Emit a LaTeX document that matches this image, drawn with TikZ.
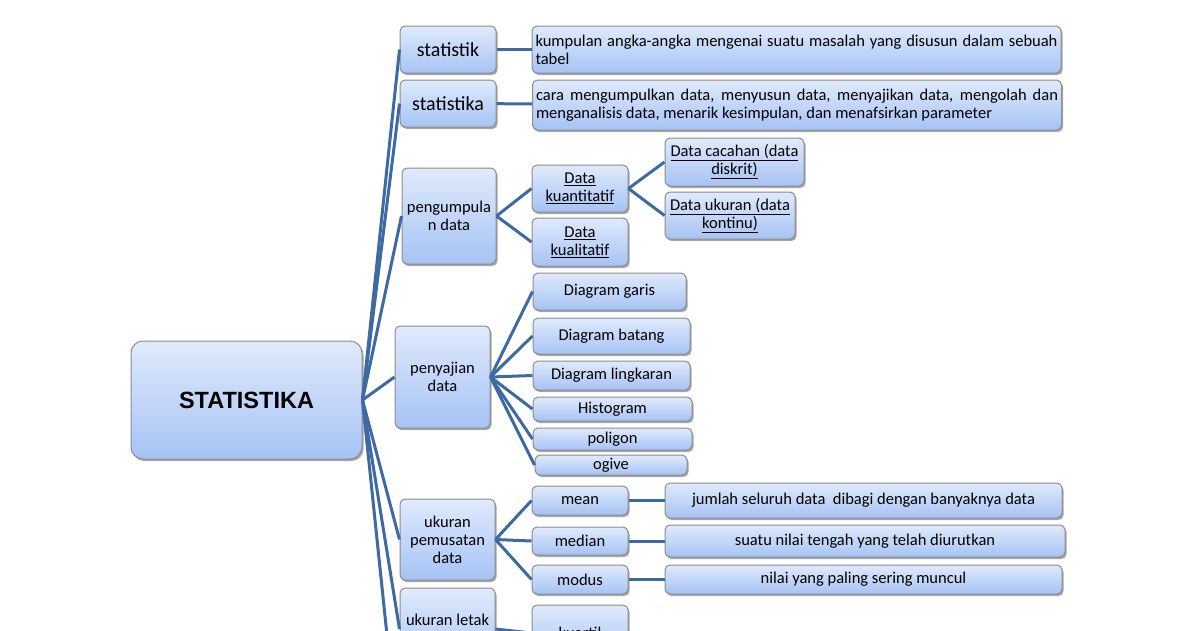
\documentclass[tikz,border=0pt]{standalone}
\usepackage{fontspec}
\setmainfont{Carlito}
\newfontfamily\arialfont{Liberation Sans}
\usetikzlibrary{shadows}

\definecolor{linkblue}{RGB}{61,106,163}
\definecolor{boxtop}{RGB}{224,234,251}
\definecolor{boxbottom}{RGB}{166,195,245}
\definecolor{boxline}{RGB}{140,140,140}

\tikzset{
	box/.style={draw=boxline,line width=1pt,rounded corners=5pt,top color=boxtop,bottom color=boxbottom,
		drop shadow={shadow xshift=1.5pt,shadow yshift=-2pt,opacity=0.35,fill=black},
		align=center,inner xsep=1pt,inner ysep=0.5pt,font=\fontsize{16.5}{18}\selectfont},
	defbox/.style={box,align=justify,text width=522pt,inner xsep=3.5pt},
	link/.style={draw=linkblue,line width=3pt}
}

\begin{document}
\begin{tikzpicture}[x=1pt,y=-1pt]
			\useasboundingbox (0,0) rectangle (1200,630);
			\clip (0,0) rectangle (1200,630);
			
			% pusat
			\node[box,rounded corners=12pt,minimum width=231pt,minimum height=118pt,font=\arialfont\bfseries\fontsize{23.5}{26}\selectfont] (root) at (246.5,400) {STATISTIKA};
			
			% cabang utama
			\node[box,minimum width=96pt,minimum height=47pt,font=\fontsize{20}{22}\selectfont] (statistik) at (448,49.5) {statistik};
			\node[box,minimum width=96pt,minimum height=47pt,font=\fontsize{20}{22}\selectfont] (statistika) at (448,103.5) {statistika};
			\node[box,minimum width=94pt,minimum height=96pt] (kumpul) at (449,216) {pengumpula\\n data};
			\node[box,minimum width=95pt,minimum height=102pt] (saji) at (442.5,377) {penyajian\\data};
			\node[box,minimum width=95pt,minimum height=81pt] (pusat) at (447.5,539.5) {ukuran\\pemusatan\\data};
			\node[box,minimum width=95pt,minimum height=82pt] (letak) at (447.5,629) {ukuran letak\\\phantom{x}};
			\coordinate (bawah) at (400,760);
			
			% pengertian
			\node[defbox,minimum height=47pt] (defstatistik) at (796.5,49.5) {kumpulan angka-angka mengenai suatu masalah yang disusun dalam sebuah tabel};
			\node[defbox,minimum height=50pt] (defstatistika) at (797,105) {cara mengumpulkan data, menyusun data, menyajikan data, mengolah dan menganalisis data, menarik kesimpulan, dan menafsirkan parameter};
			
			% pengumpulan data
			\node[box,minimum width=96pt,minimum height=47pt] (kuan) at (580,188.5) {\underline{Data}\\\underline{kuantitatif}};
			\node[box,minimum width=96pt,minimum height=48pt] (kual) at (580,242) {\underline{Data}\\\underline{kualitatif}};
			\node[box,minimum width=139pt,minimum height=48pt] (cacah) at (734.5,162) {\underline{Data cacahan (data}\\\underline{diskrit)}};
			\node[box,minimum width=130pt,minimum height=47pt] (ukur) at (730,215.5) {\underline{Data ukuran (data}\\\underline{kontinu)}};
			
			% penyajian data
			\node[box,minimum width=153pt,minimum height=37pt] (garis) at (609.5,291.5) {Diagram garis};
			\node[box,minimum width=157pt,minimum height=36pt] (batang) at (611.5,336) {Diagram batang};
			\node[box,minimum width=157pt,minimum height=29pt] (lingkaran) at (611.5,375.5) {Diagram lingkaran};
			\node[box,minimum width=159pt,minimum height=24pt] (histogram) at (612.5,409) {Histogram};
			\node[box,minimum width=159pt,minimum height=22pt] (poligon) at (612.5,439) {poligon};
			\node[box,minimum width=152pt,minimum height=20pt] (ogive) at (611,465) {ogive};
			
			% ukuran pemusatan
			\node[box,minimum width=96pt,minimum height=29pt] (mean) at (580,500.5) {mean};
			\node[box,minimum width=96pt,minimum height=28pt] (median) at (580,541) {median};
			\node[box,minimum width=96pt,minimum height=29pt] (modus) at (580,579.5) {modus};
			\node[box,minimum width=397pt,minimum height=35pt] (defmean) at (863.5,500.5) {jumlah seluruh data\ \ dibagi dengan banyaknya data};
			\node[box,minimum width=400pt,minimum height=32pt] (defmedian) at (865,541) {suatu nilai tengah yang telah diurutkan};
			\node[box,minimum width=397pt,minimum height=29pt] (defmodus) at (863.5,579.5) {nilai yang paling sering muncul};
			
			% ukuran letak
			\node[box,minimum width=96pt,minimum height=56pt] (kuartil) at (580,633) {kuartil};
			
			% garis penghubung
			\foreach \n in {statistik,statistika,kumpul,saji,pusat,letak,bawah}
			\draw[link] (root.east) -- (\n.west);
			\draw[link] (statistik) -- (defstatistik);
			\draw[link] (statistika) -- (defstatistika);
			\foreach \n in {kuan,kual}
			\draw[link] (kumpul.east) -- (\n.west);
			\foreach \n in {cacah,ukur}
			\draw[link] (kuan.east) -- (\n.west);
			\foreach \n in {garis,batang,lingkaran,histogram,poligon,ogive}
			\draw[link] (saji.east) -- (\n.west);
			\foreach \n in {mean,median,modus}
			\draw[link] (pusat.east) -- (\n.west);
			\draw[link] (mean) -- (defmean);
			\draw[link] (median) -- (defmedian);
			\draw[link] (modus) -- (defmodus);
			\draw[link] (letak.east) -- (kuartil.west);
			\end{tikzpicture}
\end{document}
